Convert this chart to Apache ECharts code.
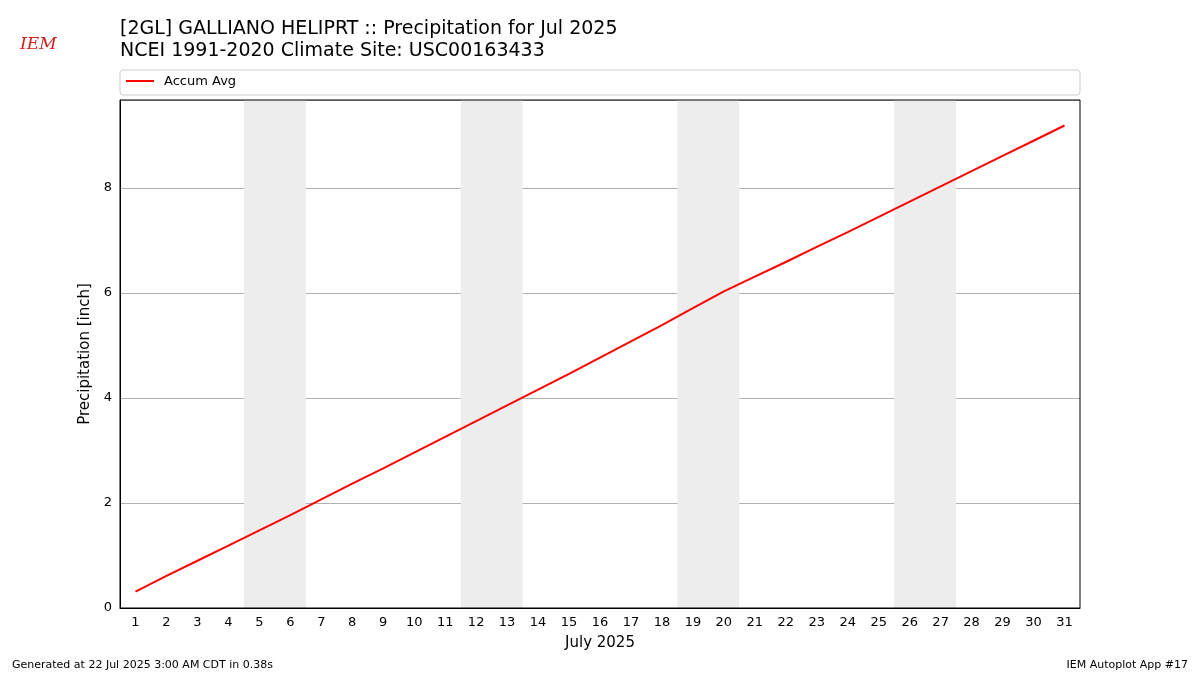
<!DOCTYPE html>
<html><head><meta charset="utf-8">
<script src="https://cdn.jsdelivr.net/npm/echarts@6/dist/echarts.min.js"></script>
<style>body{margin:0}#c{width:1200px;height:675px}</style></head>
<body><div id="c"></div>
<script>
const days = Array.from({length:31},(_,i)=>String(i+1));
const accumAvg = [0.31,0.61,0.90,1.19,1.48,1.77,2.07,2.37,2.66,2.96,3.26,3.56,3.86,4.16,4.46,4.77,5.08,5.39,5.71,6.03,6.31,6.59,6.88,7.16,7.45,7.74,8.03,8.32,8.61,8.90,9.19];
const weekends = [[4.5,6.5],[11.5,13.5],[18.5,20.5],[25.5,27.5]];
const yTicks = [0,2,4,6,8];
const chart = echarts.init(document.getElementById('c'));
const F = 'DejaVu Sans';
chart.setOption({
  animation:false,
  textStyle:{fontFamily:F},
  title:[
    {text:'[2GL] GALLIANO HELIPRT :: Precipitation for Jul 2025\nNCEI 1991-2020 Climate Site: USC00163433',left:120,top:18,padding:0,textStyle:{fontSize:19,fontWeight:'normal',color:'#000',lineHeight:22,fontFamily:F}},
    {text:'IEM',left:20,top:36,padding:0,textStyle:{fontSize:17,fontStyle:'italic',fontFamily:'DejaVu Serif',color:'#d02020',fontWeight:'normal'}},
    {text:'Generated at 22 Jul 2025 3:00 AM CDT in 0.38s',left:12,top:660,padding:0,textStyle:{fontSize:11,fontWeight:'normal',color:'#000',fontFamily:F}},
    {text:'IEM Autoplot App #17',right:12,top:660,padding:0,textStyle:{fontSize:11,fontWeight:'normal',color:'#000',fontFamily:F}}
  ],
  graphic:[
    {type:'rect',shape:{x:120,y:70,width:960,height:25,r:3},style:{fill:'#fff',stroke:'#ccc'}},
    {type:'line',shape:{x1:126,y1:81,x2:154,y2:81},style:{stroke:'red',lineWidth:2}},
    {type:'text',x:164,y:75,style:{text:'Accum Avg',fontSize:13,fontFamily:F,fill:'#000'}},
    {type:'rect',z:100,shape:{x:120,y:100,width:960,height:508},style:{fill:'none',stroke:'#000',lineWidth:1}}
  ],
  grid:{left:120,right:120,top:100,bottom:67},
  xAxis:[
    {type:'value',min:0.5,max:31.5,show:false},
    {type:'category',data:days,position:'bottom',boundaryGap:true,
     axisLine:{lineStyle:{color:'#000'}},axisTick:{alignWithLabel:true,lineStyle:{color:'#000'}},
     axisLabel:{color:'#000',fontSize:13,interval:0},
     name:'July 2025',nameLocation:'middle',nameGap:28,nameTextStyle:{fontSize:15,color:'#000'}}
  ],
  yAxis:{type:'value',min:0,max:9.676,interval:2,
    axisLine:{show:true,lineStyle:{color:'#000'}},axisTick:{show:false},
    axisLabel:{color:'#000',fontSize:13,formatter:v=>yTicks.includes(v)?String(v):''},
    splitLine:{lineStyle:{color:'#b0b0b0'}},
    name:'Precipitation [inch]',nameLocation:'middle',nameGap:26,nameTextStyle:{fontSize:15,color:'#000'}},
  series:[{type:'line',xAxisIndex:0,symbol:'none',data:accumAvg.map((v,i)=>[i+1,v]),
    lineStyle:{color:'red',width:2},
    markArea:{silent:true,itemStyle:{color:'#ededed'},data:weekends.map(w=>[{xAxis:w[0]},{xAxis:w[1]}])}},
    {type:'line',xAxisIndex:1,data:[],silent:true}]
});
</script></body></html>
